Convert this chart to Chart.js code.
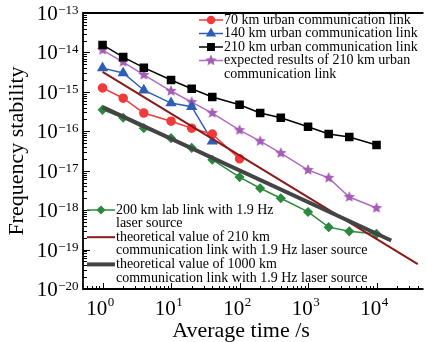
<!DOCTYPE html>
<html>
<head>
<meta charset="utf-8">
<script src="https://cdn.jsdelivr.net/npm/chart.js@4.4.1/dist/chart.umd.min.js"></script>
<style>
  html, body { margin: 0; padding: 0; background: #fff; }
  #wrap { width: 426px; height: 342px; }
</style>
</head>
<body>
<div id="wrap"><canvas id="myChart" width="426" height="342"></canvas></div>
<script>
// ---- data ----
const tau = [1, 2, 4, 10, 20, 40, 100, 200, 400, 1000, 2000, 4000, 10000];
const link70 = [1.26e-15, 6.9e-16, 2.9e-16, 1.8e-16, 1.2e-16, 8.5e-17, 2.0e-17];
const link140 = [4.0e-15, 3.0e-15, 1.1e-15, 5.2e-16, 4.2e-16, 5.6e-17];
const link210 = [1.55e-14, 7.6e-15, 4.1e-15, 2.0e-15, 1.2e-15, 7.4e-16, 4.7e-16, 2.9e-16, 2.2e-16, 1.3e-16, 8.5e-17, 7.2e-17, 4.5e-17];
const expected210 = [1.15e-14, 5.7e-15, 2.7e-15, 1.05e-15, 5.5e-16, 2.9e-16, 1.07e-16, 5.6e-17, 2.8e-17, 1.04e-17, 6.6e-18, 2.15e-18, 1.13e-18];
const lab200 = [3.5e-16, 2.2e-16, 1.2e-16, 6.7e-17, 3.8e-17, 1.9e-17, 6.9e-18, 3.6e-18, 2.0e-18, 9.0e-19, 3.7e-19, 2.9e-19, 2.5e-19];
const theory210Tau = [1, 40000];
const theory210 = [3.2e-15, 4.3e-20];
const theory1000Tau = [1, 16400];
const theory1000 = [4.1e-16, 1.7e-19];

const xExps = [0, 1, 2, 3, 4];
const yExps = [-13, -14, -15, -16, -17, -18, -19, -20];

const SERIF = '"Liberation Serif", "DejaVu Serif", serif';

function pts(xs, ys) {
    return ys.map((v, i) => ({ x: xs[i], y: v }));
}

// filled star marker
function makeStar(color, r) {
    const c = document.createElement('canvas');
    const s = Math.ceil(r * 2 + 2);
    c.width = s; c.height = s;
    const g = c.getContext('2d');
    g.fillStyle = color;
    g.beginPath();
    for (let i = 0; i < 10; i++) {
        const rad = i % 2 === 0 ? r : r * 0.45;
        const a = -Math.PI / 2 + i * Math.PI / 5;
        const px = s / 2 + rad * Math.cos(a), py = s / 2 + rad * Math.sin(a);
        if (i === 0) g.moveTo(px, py); else g.lineTo(px, py);
    }
    g.closePath();
    g.fill();
    return c;
}
const starImg = makeStar('#a45cb5', 6);

const datasets = [
    { label: 'theoretical value of 1000 km', data: pts(theory1000Tau, theory1000), borderColor: '#444444', borderWidth: 4, pointRadius: 0 },
    { label: 'theoretical value of 210 km', data: pts(theory210Tau, theory210), borderColor: '#8b1a1a', borderWidth: 2, pointRadius: 0 },
    { label: '70 km', data: pts(tau, link70), borderColor: '#f23a3a', backgroundColor: '#f23a3a', borderWidth: 1.5, pointStyle: 'circle', pointRadius: 4 },
    { label: '140 km', data: pts(tau, link140), borderColor: '#2d5fb5', backgroundColor: '#2d5fb5', borderWidth: 1.5, pointStyle: 'triangle', pointRadius: 5 },
    { label: '210 km', data: pts(tau, link210), borderColor: '#000000', backgroundColor: '#000000', borderWidth: 1.5, pointStyle: 'rect', pointRadius: 5 },
    { label: 'expected', data: pts(tau, expected210), borderColor: '#b06cc0', backgroundColor: '#a45cb5', borderWidth: 1.5, pointStyle: starImg, pointRadius: 6 },
    { label: '200 km lab', data: pts(tau, lab200), borderColor: '#2b8a3e', backgroundColor: '#2b8a3e', borderWidth: 1.5, pointStyle: 'rectRot', pointRadius: 4 }
];

function sample(ctx, ds, x1, x2, y) {
    ctx.save();
    ctx.strokeStyle = ds.borderColor;
    ctx.lineWidth = ds.borderWidth;
    ctx.beginPath(); ctx.moveTo(x1, y); ctx.lineTo(x2, y); ctx.stroke();
    if (ds.pointRadius) {
        const cx = (x1 + x2) / 2;
        if (ds.pointStyle instanceof HTMLCanvasElement) {
            ctx.drawImage(ds.pointStyle, cx - ds.pointStyle.width / 2, y - ds.pointStyle.height / 2);
        } else {
            ctx.fillStyle = ds.backgroundColor;
            Chart.helpers.drawPoint(ctx, { pointStyle: ds.pointStyle, radius: ds.pointRadius - 0.5, borderWidth: 1, rotation: 0 }, cx, y);
        }
    }
    ctx.restore();
}

// "10" with a raised exponent; y is the middle of the "10"
function pow10(ctx, exp, x, y, align, raise) {
    const base = '10', sup = String(exp).replace('-', '\u2212');
    ctx.font = '21px ' + SERIF;
    const wb = ctx.measureText(base).width;
    ctx.font = '13px ' + SERIF;
    const ws = ctx.measureText(sup).width;
    let left = align === 'right' ? x - wb - ws : x - (wb + ws) / 2;
    ctx.textAlign = 'left';
    ctx.textBaseline = 'alphabetic';
    ctx.font = '21px ' + SERIF;
    ctx.fillText(base, left, y + 7);
    ctx.font = '13px ' + SERIF;
    ctx.fillText(sup, left + wb + 0.5, y + 7 - raise);
}

const decorPlugin = {
    id: 'decor',
    afterDraw(chart) {
        const ctx = chart.ctx;
        const a = chart.chartArea;
        const xs = chart.scales.x, ys = chart.scales.y;
        ctx.save();
        // frame
        ctx.strokeStyle = '#000';
        ctx.lineWidth = 1.8;
        ctx.beginPath();
        ctx.moveTo(a.right + 5, a.top); ctx.lineTo(a.left, a.top);
        ctx.lineTo(a.left, a.bottom); ctx.lineTo(a.right + 5, a.bottom);
        ctx.stroke();

        // inside ticks
        ctx.lineWidth = 1;
        ctx.beginPath();
        for (let e = -20; e <= -14; e++) {
            for (let m = 1; m <= 9; m++) {
                const py = Math.round(ys.getPixelForValue(m * Math.pow(10, e))) + 0.5;
                const len = m === 1 ? 7 : 4;
                ctx.moveTo(a.left, py); ctx.lineTo(a.left + len, py);
            }
        }
        for (let e = -1; e <= 4; e++) {
            for (let m = 1; m <= 9; m++) {
                const v = m * Math.pow(10, e);
                if (v < xs.min || v > xs.max) continue;
                const px = Math.round(xs.getPixelForValue(v)) + 0.5;
                const len = m === 1 ? 6 : 3;
                ctx.moveTo(px, a.bottom); ctx.lineTo(px, a.bottom - len);
            }
        }
        ctx.stroke();

        // tick labels
        ctx.fillStyle = '#000';
        yExps.forEach(e => pow10(ctx, e, a.left - 5, ys.getPixelForValue(Math.pow(10, e)), 'right', 6));
        xExps.forEach(e => pow10(ctx, e, xs.getPixelForValue(Math.pow(10, e)) - 2.5, 308, 'center', 9));

        // axis titles
        ctx.font = '22px ' + SERIF;
        ctx.textAlign = 'center';
        ctx.textBaseline = 'middle';
        ctx.fillText('Average time /s', 241, 331);
        ctx.save();
        ctx.translate(17, (a.top + a.bottom) / 2);
        ctx.rotate(-Math.PI / 2);
        ctx.fillText('Frequency stability', 0, 0);
        ctx.restore();

        // legends
        const d = chart.data.datasets;
        ctx.font = '14px ' + SERIF;
        ctx.textAlign = 'left';
        ctx.textBaseline = 'middle';
        const top = [
            [d[2], '70 km urban communication link'],
            [d[3], '140 km urban communication link'],
            [d[4], '210 km urban communication link'],
            [d[5], 'expected results of 210 km urban', 'communication link']
        ];
        let y = 20;
        top.forEach(item => {
            sample(ctx, item[0], 199, 223, y);
            ctx.fillStyle = '#000';
            ctx.fillText(item[1], 224, y);
            y += 13.5;
            if (item[2]) { ctx.fillText(item[2], 224, y); y += 13.5; }
        });
        const bottom = [
            [d[6], '200 km lab link with 1.9 Hz', 'laser source'],
            [d[1], 'theoretical value of 210 km', 'communication link with 1.9 Hz laser source'],
            [d[0], 'theoretical value of 1000 km', 'communication link with 1.9 Hz laser source']
        ];
        y = 210;
        bottom.forEach(item => {
            sample(ctx, item[0], 87, 115, y);
            ctx.fillStyle = '#000';
            ctx.fillText(item[1], 116, y);
            ctx.fillText(item[2], 116, y + 13.6);
            y += 27.2;
        });
        ctx.restore();
    }
};

new Chart(document.getElementById('myChart').getContext('2d'), {
    type: 'line',
    data: { datasets: datasets },
    options: {
        responsive: false,
        animation: false,
        layout: { padding: { left: 83, top: 13, right: 0, bottom: 53 } },
        plugins: { legend: { display: false }, tooltip: { enabled: false } },
        elements: { line: { tension: 0, fill: false } },
        scales: {
            x: { type: 'logarithmic', min: 0.518, max: 41000, display: false },
            y: { type: 'logarithmic', min: 1e-20, max: 1e-13, display: false }
        }
    },
    plugins: [decorPlugin]
});
</script>
</body>
</html>
